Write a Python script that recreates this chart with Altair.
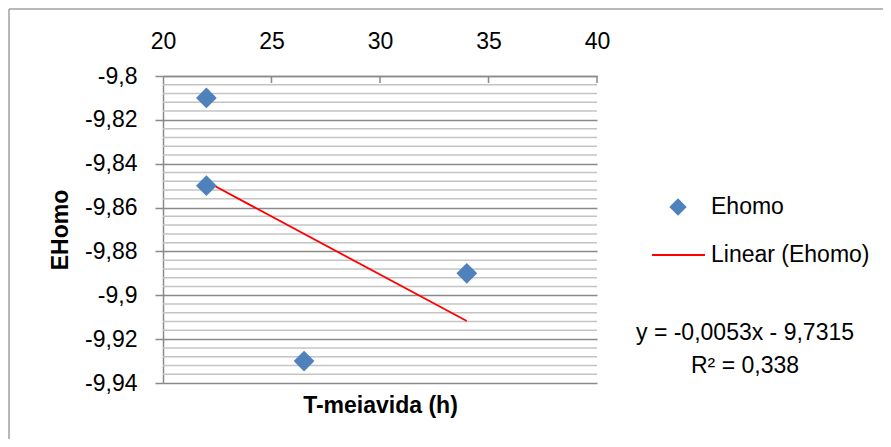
import altair as alt
import pandas as pd

# ---- data ----
t_meiavida = [22, 22, 26.5, 34]
ehomo = [-9.81, -9.85, -9.93, -9.89]
series_names = ["Ehomo", "Linear (Ehomo)"]
series_colors = ["#4F81BD", "#FF0000"]
x_ticks = [20, 25, 30, 35, 40]
x_inner_ticks = [25, 30, 35, 40]
y_major = [-9.94, -9.92, -9.90, -9.88, -9.86, -9.84, -9.82, -9.80]
y_minor = [round(-9.94 + 0.004 * i, 3) for i in range(36) if i % 5 != 0]
equation_lines = ["y = -0,0053x - 9,7315", "R² = 0,338"]
x_title = "T-meiavida (h)"
y_title = "EHomo"

FONT = "Liberation Sans"
FS = 23
MAJOR = "#8A8A8A"
MINOR = "#C4C4C4"

W, H = 434, 307
PAD_L, PAD_T = 155, 68
TOTAL_W, TOTAL_H = 875, 431

df = pd.DataFrame({"x": t_meiavida, "y": ehomo, "series": series_names[0]})

xscale = alt.Scale(domain=[20, 40], nice=False, zero=False)
yscale = alt.Scale(domain=[-9.94, -9.80], nice=False, zero=False)
color_scale = alt.Scale(domain=series_names, range=series_colors)

x_axis = alt.Axis(
    orient="top",
    values=x_ticks,
    grid=False,
    tickSize=0,
    labelPadding=35,
    labelBaseline="middle",
    labelFlush=False,
    labelFont=FONT,
    labelFontSize=FS,
    labelColor="#000000",
    domainColor=MAJOR,
    domainWidth=1.5,
    title=x_title,
    titleFont=FONT,
    titleFontSize=FS,
    titleFontWeight="bold",
    titleColor="#000000",
    titleX=W / 2,
    titleY=329,
    titleBaseline="middle",
    titleAlign="center",
)

y_axis = alt.Axis(
    orient="left",
    values=y_major,
    grid=True,
    gridColor=MAJOR,
    gridWidth=1.5,
    tickSize=8,
    tickColor=MAJOR,
    tickWidth=1.5,
    labelPadding=18,
    labelFlush=False,
    labelExpr="replace(replace(format(datum.value, '.2~f'), '.', ','), '\u2212', '-')",
    labelFont=FONT,
    labelFontSize=FS,
    labelColor="#000000",
    domainColor=MAJOR,
    domainWidth=1.5,
    title=y_title,
    titleFont=FONT,
    titleFontSize=FS,
    titleFontWeight="bold",
    titleColor="#000000",
    titleAngle=-90,
    titleX=-103,
    titleY=H / 2,
    titleAlign="center",
    titleBaseline="middle",
)

# minor horizontal gridlines through the y scale
minor = alt.Chart(pd.DataFrame({"g": y_minor})).mark_rule(color=MINOR, strokeWidth=1.5).encode(
    y=alt.Y("g:Q", scale=yscale, axis=y_axis),
    x=alt.value(0),
    x2=alt.value(W),
)

points = alt.Chart(df).mark_point(filled=True, size=430, opacity=1, shape="diamond").encode(
    x=alt.X("x:Q", scale=xscale, axis=x_axis),
    y=alt.Y("y:Q", scale=yscale, axis=y_axis),
    color=alt.Color("series:N", scale=color_scale, legend=None),
)

trend = (
    alt.Chart(df)
    .transform_regression("x", "y")
    .transform_calculate(series=f"'{series_names[1]}'")
    .mark_line(strokeWidth=1.8)
    .encode(
        x=alt.X("x:Q", scale=xscale, axis=x_axis),
        y=alt.Y("y:Q", scale=yscale, axis=y_axis),
        color=alt.Color("series:N", scale=color_scale, legend=None),
    )
)

ticks_df = pd.DataFrame({"x": x_inner_ticks})
top_ticks = alt.Chart(ticks_df).mark_rule(color=MAJOR, strokeWidth=1.5).encode(
    x=alt.X("x:Q", scale=xscale, axis=x_axis),
    y=alt.value(0),
    y2=alt.value(7),
)

# ---- manual legend ----
leg_symbol = alt.Chart(pd.DataFrame({"series": [series_names[0]]})).mark_point(
    filled=True, size=300, opacity=1, shape="diamond"
).encode(
    x=alt.value(515), y=alt.value(131),
    color=alt.Color("series:N", scale=color_scale, legend=None),
)
leg_line = alt.Chart(pd.DataFrame({"series": [series_names[1]]})).mark_rule(strokeWidth=2).encode(
    x=alt.value(489), x2=alt.value(542), y=alt.value(179),
    color=alt.Color("series:N", scale=color_scale, legend=None),
)
leg_text1 = alt.Chart(pd.DataFrame({"series": [series_names[0]]})).mark_text(
    font=FONT, fontSize=FS, color="#000000", align="left", baseline="middle"
).encode(text="series:N", x=alt.value(548), y=alt.value(131))
leg_text2 = alt.Chart(pd.DataFrame({"series": [series_names[1]]})).mark_text(
    font=FONT, fontSize=FS, color="#000000", align="left", baseline="middle"
).encode(text="series:N", x=alt.value(548), y=alt.value(179))

eq_df = pd.DataFrame({"t": ["\n".join(equation_lines)]})
equation = alt.Chart(eq_df).mark_text(
    font=FONT, fontSize=FS, color="#000000", align="center", baseline="middle",
    lineBreak="\n", lineHeight=33,
).encode(text="t:N", x=alt.value(582), y=alt.value(257))

frame_df = pd.DataFrame({"k": [0]})
frame_top = alt.Chart(frame_df).mark_rule(color="#A0A0A0", strokeWidth=1.5).encode(
    x=alt.value(-154), x2=alt.value(740), y=alt.value(-67)
)
frame_left = alt.Chart(frame_df).mark_rule(color="#A0A0A0", strokeWidth=1.5).encode(
    x=alt.value(-154), y=alt.value(-67), y2=alt.value(400)
)

chart = (
    alt.layer(minor, top_ticks, trend, points, leg_symbol, leg_line, leg_text1, leg_text2,
              equation, frame_top, frame_left)
    .properties(
        width=W,
        height=H,
        padding={"left": PAD_L, "top": PAD_T, "right": TOTAL_W - PAD_L - W, "bottom": TOTAL_H - PAD_T - H},
        autosize=alt.AutoSizeParams(type="none"),
        background="#FFFFFF",
    )
    .configure_view(stroke=None)
)

chart.save("out.html", embed_options={"renderer": "svg", "actions": False})
